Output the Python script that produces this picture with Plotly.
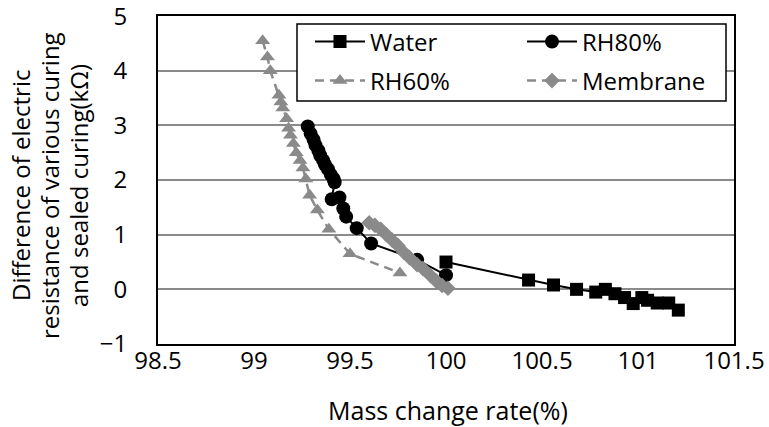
import plotly.graph_objects as go

water_x = [100.0, 100.43, 100.56, 100.68, 100.78, 100.83, 100.88, 100.93, 100.975, 101.02, 101.05, 101.1, 101.16, 101.21]
water_y = [0.5, 0.17, 0.08, 0.0, -0.05, 0.0, -0.08, -0.15, -0.26, -0.15, -0.2, -0.25, -0.25, -0.38]

rh80_x = [99.28, 99.295, 99.31, 99.32, 99.335, 99.345, 99.36, 99.37, 99.385, 99.4, 99.415, 99.42, 99.405, 99.445, 99.465, 99.48, 99.535, 99.61, 99.85, 100.0]
rh80_y = [2.98, 2.85, 2.74, 2.64, 2.54, 2.45, 2.36, 2.28, 2.2, 2.1, 2.02, 1.96, 1.65, 1.68, 1.48, 1.33, 1.12, 0.84, 0.54, 0.26]

rh60_x = [99.045, 99.07, 99.085, 99.13, 99.14, 99.15, 99.17, 99.18, 99.19, 99.205, 99.22, 99.24, 99.255, 99.27, 99.29, 99.33, 99.39, 99.5, 99.76]
rh60_y = [4.55, 4.25, 4.0, 3.55, 3.43, 3.32, 3.12, 2.95, 2.82, 2.67, 2.5, 2.36, 2.22, 2.02, 1.72, 1.45, 1.1, 0.65, 0.3]

memb_x = [99.6, 99.63, 99.66, 99.69, 99.72, 99.75, 99.78, 99.81, 99.85, 99.88, 99.92, 99.95, 99.98, 100.01]
memb_y = [1.22, 1.17, 1.1, 1.0, 0.9, 0.8, 0.68, 0.58, 0.45, 0.38, 0.25, 0.15, 0.07, 0.02]

x_ticks = [98.5, 99, 99.5, 100, 100.5, 101, 101.5]
x_tick_labels = ["98.5", "99", "99.5", "100", "100.5", "101", "101.5"]
y_ticks = [-1, 0, 1, 2, 3, 4, 5]
y_title_lines = ["Difference of electric", "resistance of various curing", "and sealed curing(kΩ)"]
x_title = "Mass change rate(%)"

FONT = "Open Sans"
FS = 24
GRAY = "#8a8a8a"

L, R, T, B = 158, 35, 16, 83
W, H = 769, 427
pw, ph = W - L - R, H - T - B


def px2x(p):
    return (p - L) / pw


def py2y(p):
    return 1 - (p - T) / ph


fig = go.Figure()
fig.add_trace(go.Scatter(x=water_x, y=water_y, name="Water", mode="lines+markers",
                         line=dict(color="black", width=2),
                         marker=dict(symbol="square", size=13, color="black"),
                         legend="legend"))
fig.add_trace(go.Scatter(x=rh80_x, y=rh80_y, name="RH80%", mode="lines+markers",
                         line=dict(color="black", width=2),
                         marker=dict(symbol="circle", size=14, color="black"),
                         legend="legend2"))
fig.add_trace(go.Scatter(x=rh60_x, y=rh60_y, name="RH60%", mode="lines+markers",
                         line=dict(color=GRAY, width=2.5, dash="9px,6px"),
                         marker=dict(symbol="triangle-up", size=13, color=GRAY),
                         legend="legend3"))
fig.add_trace(go.Scatter(x=memb_x, y=memb_y, name="Membrane", mode="lines+markers",
                         line=dict(color=GRAY, width=2.5, dash="9px,6px"),
                         marker=dict(symbol="diamond", size=12, color=GRAY),
                         legend="legend4"))

leg_common = dict(bgcolor="rgba(0,0,0,0)", borderwidth=0,
                  font=dict(family=FONT, size=FS, color="black"),
                  xanchor="left", yanchor="middle", itemwidth=50)

annotations = []
for i, line in enumerate(y_title_lines):
    annotations.append(dict(text=line, textangle=-90, xref="paper", yref="paper",
                            x=px2x([20, 49, 78][i]), y=py2y(186), xanchor="center", yanchor="middle",
                            showarrow=False, font=dict(family=FONT, size=FS, color="black")))
annotations.append(dict(text=x_title, xref="paper", yref="paper", x=px2x(448), y=py2y(410),
                        xanchor="center", yanchor="middle", showarrow=False,
                        font=dict(family=FONT, size=25, color="black")))

fig.update_layout(
    width=W, height=H,
    margin=dict(l=L, r=R, t=T, b=B, autoexpand=False),
    paper_bgcolor="white", plot_bgcolor="white",
    font=dict(family=FONT, size=FS, color="black"),
    showlegend=True,
    legend=dict(x=px2x(310), y=py2y(42), **leg_common),
    legend2=dict(x=px2x(522), y=py2y(42), **leg_common),
    legend3=dict(x=px2x(310), y=py2y(81), **leg_common),
    legend4=dict(x=px2x(522), y=py2y(81), **leg_common),
    xaxis=dict(range=[98.5, 101.5], tickvals=x_ticks, ticktext=x_tick_labels,
               showgrid=False, zeroline=False, showline=True, linecolor="black",
               linewidth=2, mirror=True, ticks="", ticklabelstandoff=-6,
               ticklabeloverflow="allow", automargin=False),
    yaxis=dict(range=[-1, 5.002], tickvals=y_ticks, showgrid=True, gridcolor=GRAY,
               gridwidth=1.5, zeroline=False, showline=True, linecolor="black",
               linewidth=2, mirror=True, ticks="", ticklabelstandoff=24,
               ticklabeloverflow="allow", automargin=False),
    annotations=annotations,
    shapes=[dict(type="rect", xref="paper", yref="paper",
                 x0=px2x(297), x1=px2x(726), y0=py2y(101), y1=py2y(24),
                 line=dict(color="black", width=1.5), fillcolor="white", layer="above")],
)

fig.write_html("out.html")
